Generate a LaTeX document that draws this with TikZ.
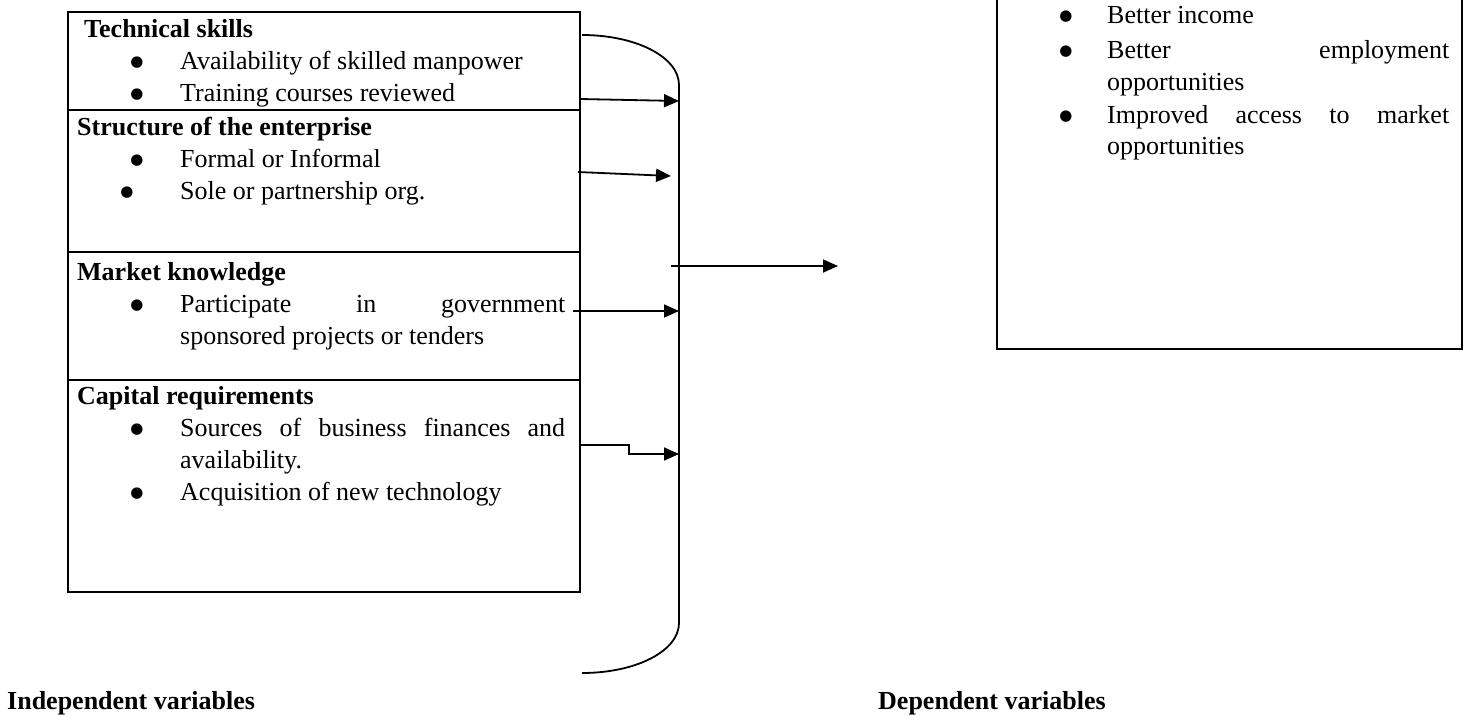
\documentclass[tikz,border=0pt]{standalone}
\usepackage{fontspec}
\setmainfont{Liberation Serif}
\newfontfamily\dejavu{DejaVu Sans}
\usetikzlibrary{arrows.meta}
\newcommand{\bulglyph}{\raisebox{3pt}{●}}
\begin{document}
\begin{tikzpicture}[x=1pt,y=-1pt,
  sect/.style={draw, line width=2pt, minimum width=512pt, inner sep=0pt},
  txt/.style={anchor=base west, inner sep=0pt, font=\fontsize{26}{31}\selectfont},
  hd/.style={anchor=base west, inner sep=0pt, font=\fontsize{26}{31}\selectfont\bfseries},
  bul/.style={anchor=base, inner sep=0pt, font=\dejavu\fontsize{15}{15}\selectfont},
  con/.style={line width=1.8pt, -{Triangle[length=15pt,width=13pt]}},
  brk/.style={line width=1.8pt}]
\useasboundingbox (0,0) rectangle (1466,715);
% left box sections
\node[sect, minimum height=98pt]  (tech)    at (324,61) {};
\node[sect, minimum height=142pt] (struct)  at (324,181) {};
\node[sect, minimum height=128pt] (market)  at (324,316) {};
\node[sect, minimum height=212pt] (capital) at (324,486) {};
% technical skills
\node[hd]  (th)  at (84,37)  {Technical skills};
\node[bul] (tb1) at (137,69) {\bulglyph};
\node[txt] (t1)  at (180,69) {Availability of skilled manpower};
\node[bul] (tb2) at (137,101) {\bulglyph};
\node[txt] (t2)  at (180,101) {Training courses reviewed};
% structure
\node[hd]  (sh)  at (77,135) {Structure of the enterprise};
\node[bul] (sb1) at (137,167) {\bulglyph};
\node[txt] (s1)  at (180,167) {Formal or Informal};
\node[bul] (sb2) at (127,199) {\bulglyph};
\node[txt] (s2)  at (180,199) {Sole or partnership org.};
% market
\node[hd]  (mh)  at (77,280) {Market knowledge};
\node[bul] (mb1) at (137,312) {\bulglyph};
\node[txt] (m1)  at (180,312) {\makebox[385pt][s]{Participate in government}};
\node[txt] (m2)  at (180,344) {sponsored projects or tenders};
% capital
\node[hd]  (ch)  at (77,404) {Capital requirements};
\node[bul] (cb1) at (137,436) {\bulglyph};
\node[txt] (c1)  at (180,436) {\makebox[385pt][s]{Sources of business finances and}};
\node[txt] (c2)  at (180,468) {availability.};
\node[bul] (cb2) at (137,500) {\bulglyph};
\node[txt] (c3)  at (180,500) {Acquisition of new technology};
% bracket
\coordinate (bt0) at (582,35);
\coordinate (bt1) at (679,85);
\coordinate (bb1) at (679,623);
\coordinate (bb0) at (582,673);
\draw[brk] (bt0) .. controls (636,35) and (679,57) .. (bt1) -- (bb1)
  .. controls (679,651) and (636,673) .. (bb0);
% arrows into bracket
\coordinate (a1s) at (580,99);
\coordinate (a1e) at (679,101);
\draw[con] (a1s) -- (a1e);
\coordinate (a2s) at (578,172);
\coordinate (a2e) at (671,176);
\draw[con] (a2s) -- (a2e);
\coordinate (a3s) at (573,311);
\coordinate (a3e) at (679,311);
\draw[con] (a3s) -- (a3e);
\coordinate (a4s) at (580,445);
\coordinate (a4e) at (679,454);
\draw[con] (a4s) -- (629,445) -- (629,454) -- (a4e);
% dependent box
\node[draw, line width=2pt, minimum width=465pt, minimum height=359pt, inner sep=0pt] (dep) at (1229.5,169.5) {};
\node[bul] (db1) at (1066,23) {\bulglyph};
\node[txt] (d1)  at (1107,23) {Better income};
\node[bul] (db2) at (1066,58) {\bulglyph};
\node[txt] (d2)  at (1107,58) {\makebox[342pt][s]{Better employment}};
\node[txt] (d3)  at (1107,90) {opportunities};
\node[bul] (db3) at (1066,123) {\bulglyph};
\node[txt] (d4)  at (1107,123) {\makebox[342pt][s]{Improved access to market}};
\node[txt] (d5)  at (1107,154) {opportunities};
% main arrow
\coordinate (ms) at (671,266);
\coordinate (me) at (838,266);
\draw[con] (ms) -- (me);
% labels
\node[hd] (il) at (7,709) {Independent variables};
\node[hd] (dl) at (878,709) {Dependent variables};
\end{tikzpicture}
\end{document}
